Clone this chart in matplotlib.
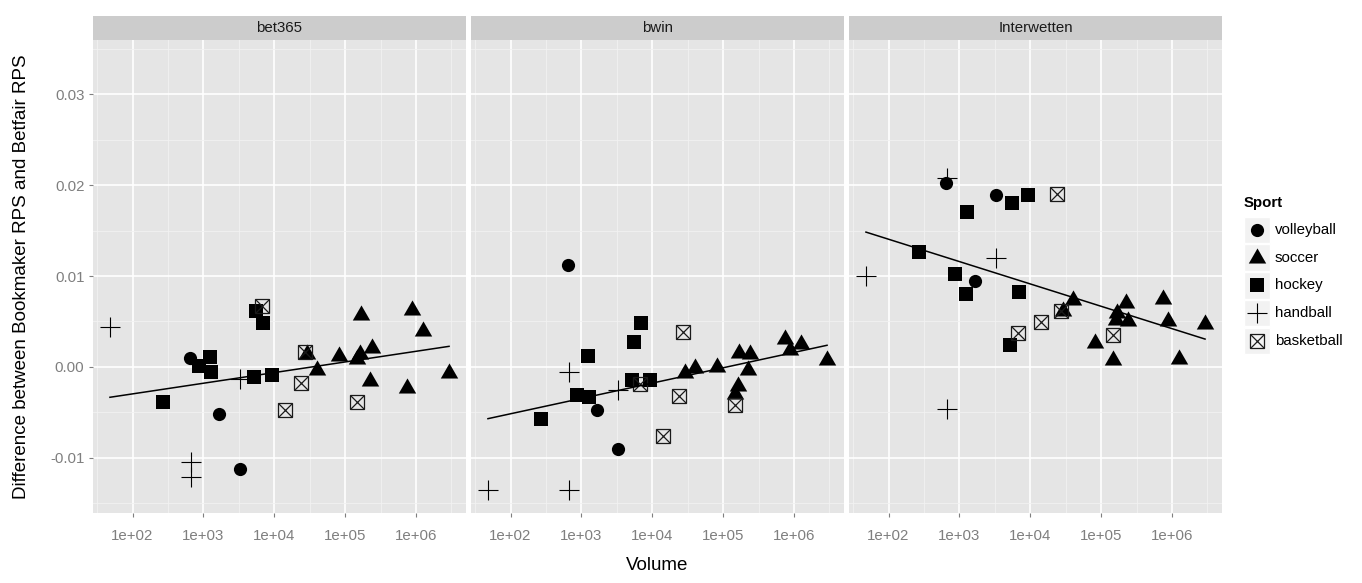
import numpy as np
import matplotlib
matplotlib.use("Agg")
import matplotlib.pyplot as plt
from matplotlib.ticker import FixedLocator, FixedFormatter, NullFormatter
from matplotlib.patches import Rectangle

plt.rcParams['font.family'] = ['Liberation Sans', 'DejaVu Sans']

# ---------------- data ----------------
bookmakers = ["bet365", "bwin", "Interwetten"]
sports = ["volleyball", "soccer", "hockey", "handball", "basketball"]

vol_volleyball = [650, 1650, 3320]
vol_soccer = [28600, 40400, 81000, 146000, 163000, 166000, 221000, 238000,
              745000, 869000, 1260000, 2930000]
vol_hockey = [272, 880, 1250, 1300, 5240, 5530, 6870, 9420]
vol_handball = [48, 670, 670, 3320]
vol_basketball = [6790, 14200, 23500, 27000, 149000]

bet365_volleyball = [0.0010, -0.0052, -0.0112]
bet365_soccer = [0.0014, -0.0003, 0.0012, 0.0009, 0.0014, 0.0057, -0.0016, 0.0021,
                 -0.0023, 0.0063, 0.0040, -0.0007]
bet365_hockey = [-0.0039, 0.0001, 0.0011, -0.0006, -0.0011, 0.0061, 0.0048, -0.0009]
bet365_handball = [0.0044, -0.0105, -0.0121, -0.0013]
bet365_basketball = [0.0067, -0.0048, -0.0018, 0.0016, -0.0039]

bwin_volleyball = [0.0112, -0.0047, -0.0090]
bwin_soccer = [-0.0007, -0.0001, 0.0000, -0.0030, -0.0021, 0.0015, -0.0004, 0.0014,
               0.0031, 0.0018, 0.0025, 0.0008]
bwin_hockey = [-0.0058, -0.0031, 0.0012, -0.0033, -0.0014, 0.0027, 0.0048, -0.0014]
bwin_handball = [-0.0136, -0.0136, -0.0006, -0.0025]
bwin_basketball = [-0.0019, -0.0076, -0.0032, 0.0038, -0.0042]

inter_volleyball = [0.0203, 0.0094, 0.0189]
inter_soccer = [0.0061, 0.0074, 0.0026, 0.0008, 0.0052, 0.0059, 0.0070, 0.0050,
                0.0075, 0.0051, 0.0009, 0.0047]
inter_hockey = [0.0126, 0.0102, 0.0080, 0.0170, 0.0024, 0.0181, 0.0082, 0.0189]
inter_handball = [0.0100, 0.0208, -0.0046, 0.0120]
inter_basketball = [0.0037, 0.0049, 0.0190, 0.0062, 0.0035]

x_ticks = [1e2, 1e3, 1e4, 1e5, 1e6]
x_tick_labels = ["1e+02", "1e+03", "1e+04", "1e+05", "1e+06"]
y_ticks = [-0.01, 0.00, 0.01, 0.02, 0.03]
y_tick_labels = ["-0.01", "0.00", "0.01", "0.02", "0.03"]

volumes = {"volleyball": vol_volleyball, "soccer": vol_soccer, "hockey": vol_hockey,
           "handball": vol_handball, "basketball": vol_basketball}
diffs = {
    "bet365": {"volleyball": bet365_volleyball, "soccer": bet365_soccer,
               "hockey": bet365_hockey, "handball": bet365_handball,
               "basketball": bet365_basketball},
    "bwin": {"volleyball": bwin_volleyball, "soccer": bwin_soccer,
             "hockey": bwin_hockey, "handball": bwin_handball,
             "basketball": bwin_basketball},
    "Interwetten": {"volleyball": inter_volleyball, "soccer": inter_soccer,
                    "hockey": inter_hockey, "handball": inter_handball,
                    "basketball": inter_basketball},
}

# ---------------- styles ----------------
tri = [(0.0, 1.0), (-0.866, -0.5), (0.866, -0.5), (0.0, 1.0)]
styles = {
    "volleyball": [dict(marker="o", ms=9.5, mfc="black", mec="black", mew=0)],
    "soccer": [dict(marker=tri, ms=14.5, mfc="black", mec="black", mew=0)],
    "hockey": [dict(marker="s", ms=10, mfc="black", mec="black", mew=0)],
    "handball": [dict(marker="+", ms=15, mec="black", mew=0.8)],
    "basketball": [dict(marker="s", ms=10.3, mfc="none", mec="#1a1a1a", mew=0.9),
                   dict(marker="x", ms=10.3, mec="#1a1a1a", mew=0.9)],
}

W, H = 1362, 583
fig = plt.figure(figsize=(W / 100, H / 100), dpi=100)


def rect(l, t, r, b):
    return [l / W, 1 - b / H, (r - l) / W, (b - t) / H]


panels = [(93, 466), (471, 844), (849, 1222)]
top, bottom = 40, 513
strip_top = 16

all_vols = np.log10(np.concatenate([np.array(v, float) for v in volumes.values()]))
lo, hi = all_vols.min(), all_vols.max()
pad = 0.05 * (hi - lo)
xlim = (10 ** (lo - pad), 10 ** (hi + pad))
ylim = (-0.0161, 0.0360)

minor_x = [10 ** e for e in np.arange(1.5, 7.0, 1.0) if lo - pad < e < hi + pad]
minor_y = [-0.015, -0.005, 0.005, 0.015, 0.025, 0.035]

grey50 = "#7F7F7F"

for i, (bm, (l, r)) in enumerate(zip(bookmakers, panels)):
    ax = fig.add_axes(rect(l, top, r, bottom))
    ax.set_facecolor("#E5E5E5")
    for s in ax.spines.values():
        s.set_visible(False)
    ax.set_xscale("log")
    ax.set_xlim(*xlim)
    ax.set_ylim(*ylim)
    ax.xaxis.set_major_locator(FixedLocator(x_ticks))
    ax.xaxis.set_major_formatter(FixedFormatter(x_tick_labels))
    ax.xaxis.set_minor_locator(FixedLocator(minor_x))
    ax.xaxis.set_minor_formatter(NullFormatter())
    ax.yaxis.set_major_locator(FixedLocator(y_ticks))
    ax.yaxis.set_minor_locator(FixedLocator(minor_y))
    if i == 0:
        ax.yaxis.set_major_formatter(FixedFormatter(y_tick_labels))
        ax.tick_params(axis="y", which="major", length=3.2, width=0.8, color=grey50,
                       labelcolor=grey50, labelsize=10.8, pad=3)
    else:
        ax.tick_params(axis="y", which="major", length=0, labelleft=False)
    ax.tick_params(axis="x", which="major", length=3.2, width=0.8, color=grey50,
                   labelcolor=grey50, labelsize=10.8, pad=8)
    ax.tick_params(which="minor", length=0)
    ax.set_axisbelow(True)
    ax.grid(which="major", color="white", lw=1.2)
    ax.grid(which="minor", color="#F2F2F2", lw=0.6)

    xs_all, ys_all = [], []
    for sp in ["volleyball", "soccer", "hockey", "handball", "basketball"]:
        xv = volumes[sp]
        yv = diffs[bm][sp]
        xs_all += list(xv)
        ys_all += list(yv)
        for st in styles[sp]:
            ax.plot(xv, yv, ls="none", clip_on=True, **st)

    lx = np.log10(np.array(xs_all, float))
    ly = np.array(ys_all, float)
    b1, b0 = np.polyfit(lx, ly, 1)
    gx = np.linspace(lx.min(), lx.max(), 100)
    ax.plot(10 ** gx, b0 + b1 * gx, color="black", lw=1.1, zorder=5)

    # strip
    sax = fig.add_axes(rect(l, strip_top, r, top))
    sax.set_facecolor("#CCCCCC")
    sax.set_xticks([])
    sax.set_yticks([])
    for s in sax.spines.values():
        s.set_visible(False)
    sax.text(0.5, 0.5, bm, ha="center", va="center", fontsize=10.8,
             color="#1A1A1A", transform=sax.transAxes)

# axis titles
fig.text((93 + 1222) / 2 / W, 1 - 566 / H, "Volume", ha="center", va="center",
         fontsize=13.5, color="black")
fig.text(22 / W, 1 - (top + bottom) / 2 / H,
         "Difference between Bookmaker RPS and Betfair RPS", ha="center",
         va="center", rotation=90, fontsize=13.5, color="black")

# legend (drawn in pixel overlay)
ov = fig.add_axes([0, 0, 1, 1])
ov.set_xlim(0, W)
ov.set_ylim(H, 0)
ov.axis("off")
ov.text(1244, 203, "Sport", ha="left", va="center", fontsize=10.8,
        fontweight="bold", color="black")
key_l, key_w, key_h = 1244, 26, 26.5
row0, step = 230, 27.7
for k, sp in enumerate(sports):
    cy = row0 + k * step
    ov.add_patch(Rectangle((key_l, cy - key_h / 2), key_w, key_h,
                           facecolor="#F2F2F2", edgecolor="white", lw=1))
    for st in styles[sp]:
        ov.plot([key_l + key_w / 2], [cy], ls="none", **st)
    ov.text(1275, cy, sp, ha="left", va="center", fontsize=10.8, color="black")

fig.savefig("out.png", dpi=100)
